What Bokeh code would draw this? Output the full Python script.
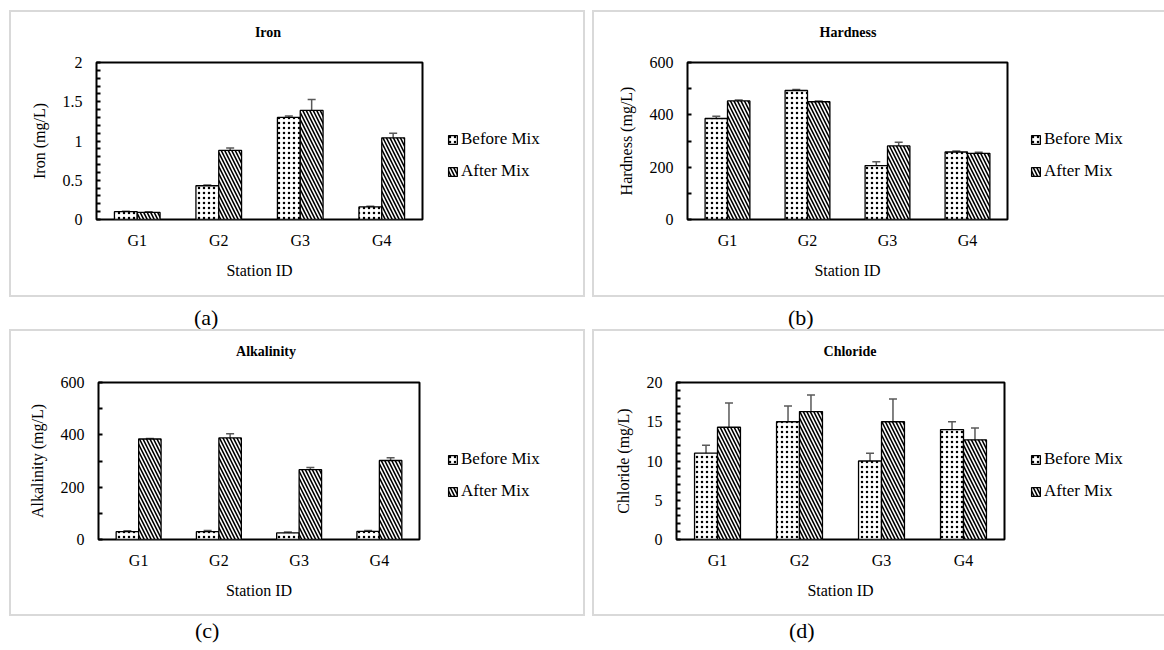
from bokeh.plotting import figure
from bokeh.models import (Range1d, FixedTicker, Legend, LegendItem, Whisker, TeeHead,
                          ColumnDataSource, NumeralTickFormatter, Spacer, Div)
from bokeh.layouts import column, row
from bokeh.embed import file_html
from bokeh.resources import INLINE

stations = ["G1", "G2", "G3", "G4"]
series_names = ["Before Mix", "After Mix"]

iron_before = [0.10, 0.43, 1.30, 0.16]
iron_before_err = [0.005, 0.01, 0.02, 0.01]
iron_after = [0.09, 0.88, 1.39, 1.04]
iron_after_err = [0.01, 0.03, 0.14, 0.06]

hard_before = [386, 493, 206, 258]
hard_before_err = [9, 4, 15, 4]
hard_after = [453, 450, 281, 253]
hard_after_err = [4, 3, 14, 4]

alk_before = [30, 30, 25, 31]
alk_before_err = [3, 4, 4, 3]
alk_after = [384, 388, 267, 302]
alk_after_err = [2, 16, 8, 10]

chl_before = [11.0, 15.0, 10.0, 14.0]
chl_before_err = [1.0, 2.0, 1.0, 1.0]
chl_after = [14.3, 16.3, 15.0, 12.7]
chl_after_err = [3.1, 2.1, 2.9, 1.5]

FONT = "Liberation Serif"
BAR_W = 0.28
ERR_COLOR = "#595959"
BORDER = "#d9d9d9"

STYLE_BEFORE = dict(fill_color="white", line_color="black", line_width=1.3,
                    hatch_pattern=".", hatch_color="black", hatch_scale=5, hatch_weight=1.0)
STYLE_AFTER = dict(fill_color="white", line_color="black", line_width=1.3,
                   hatch_pattern="\\", hatch_color="black", hatch_scale=7, hatch_weight=1.6)


def make_sources(before, before_err, after, after_err):
    idx = list(range(1, len(stations) + 1))
    xb = [i - BAR_W / 2 for i in idx]
    xa = [i + BAR_W / 2 for i in idx]
    src_b = ColumnDataSource(dict(x=xb, top=before, up=[v + e for v, e in zip(before, before_err)],
                                  lo=[v - e for v, e in zip(before, before_err)]))
    src_a = ColumnDataSource(dict(x=xa, top=after, up=[v + e for v, e in zip(after, after_err)],
                                  lo=[v - e for v, e in zip(after, after_err)]))
    return idx, src_b, src_a


def make_plot(ylabel, ymax, ystep, nminor, idx, src_b, src_a, width, left, top):
    p = figure(width=width, height=245, output_backend="svg", toolbar_location=None,
               x_range=Range1d(0.5, 4.5), y_range=Range1d(0, ymax),
               min_border_left=left, min_border_right=2, min_border_top=top,
               min_border_bottom=245 - top - 157)
    p.background_fill_color = "white"
    p.border_fill_color = "white"
    p.outline_line_color = "black"
    p.outline_line_width = 2
    p.grid.visible = False

    p.vbar(x="x", top="top", width=BAR_W, source=src_b, **STYLE_BEFORE)
    p.vbar(x="x", top="top", width=BAR_W, source=src_a, **STYLE_AFTER)
    for src in (src_b, src_a):
        w = Whisker(base="x", upper="up", lower="lo", source=src,
                    line_color=ERR_COLOR, line_width=1.5,
                    upper_head=TeeHead(size=8, line_color=ERR_COLOR, line_width=1.5),
                    lower_head=TeeHead(size=8, line_color=ERR_COLOR, line_width=1.5))
        p.add_layout(w)

    xa_ = p.xaxis[0]
    xa_.ticker = FixedTicker(ticks=idx)
    xa_.major_label_overrides = {i: s for i, s in zip(idx, stations)}
    xa_.axis_label = "Station ID"
    xa_.axis_line_color = None
    xa_.major_tick_line_color = None
    xa_.minor_tick_line_color = None
    xa_.major_label_standoff = 6
    xa_.axis_label_standoff = 10

    ya = p.yaxis[0]
    majors = []
    v = 0.0
    while v <= ymax + 1e-9:
        majors.append(round(v, 6))
        v += ystep
    minors = []
    for k in range(len(majors) - 1):
        for j in range(1, nminor):
            minors.append(majors[k] + ystep * j / nminor)
    ya.ticker = FixedTicker(ticks=majors, minor_ticks=minors)
    ya.formatter = NumeralTickFormatter(format="0.[0]")
    ya.axis_label = ylabel
    ya.axis_line_color = None
    ya.major_tick_in = 4
    ya.major_tick_out = 0
    ya.minor_tick_in = 4
    ya.minor_tick_out = 0
    ya.major_tick_line_width = 2
    ya.minor_tick_line_width = 2
    ya.major_label_standoff = 14
    ya.axis_label_standoff = 12

    for ax in (xa_, ya):
        ax.major_label_text_font = FONT
        ax.major_label_text_font_size = "16px"
        ax.major_label_text_color = "black"
        ax.axis_label_text_font = FONT
        ax.axis_label_text_font_size = "16px"
        ax.axis_label_text_font_style = "normal"
        ax.axis_label_text_color = "black"
    return p


def make_legend_fig(src_b, src_a, width, lx, ly):
    # legend-only figure: same sources, renderers hidden, legend shows the swatches
    q = figure(width=width, height=245, output_backend="svg", toolbar_location=None,
               x_range=Range1d(0.5, 4.5), y_range=Range1d(0, 1),
               x_axis_location=None, y_axis_location=None,
               min_border_left=0, min_border_right=0, min_border_top=0, min_border_bottom=0)
    q.outline_line_color = None
    q.grid.visible = False
    q.background_fill_color = "white"
    q.border_fill_color = "white"
    rb = q.vbar(x="x", top="top", width=BAR_W, source=src_b, visible=False, **STYLE_BEFORE)
    ra = q.vbar(x="x", top="top", width=BAR_W, source=src_a, visible=False, **STYLE_AFTER)
    leg = Legend(items=[LegendItem(label=series_names[0], renderers=[rb]),
                        LegendItem(label=series_names[1], renderers=[ra])],
                 location=(lx, ly), orientation="vertical",
                 glyph_width=11, glyph_height=11, label_height=20, spacing=12,
                 padding=0, margin=0, label_standoff=3,
                 label_text_font=FONT, label_text_font_size="17px",
                 label_text_color="black", border_line_color=None,
                 background_fill_alpha=0, inactive_fill_alpha=0)
    q.add_layout(leg, "center")
    return q


def title_div(text, width, center):
    return Div(width=width, height=38, margin=0, styles={"background-color": "white"},
               text=(f'<div style="position:relative;width:{width}px;height:38px;">'
                     f'<div style="position:absolute;left:{center - 100}px;top:13px;width:200px;'
                     f'text-align:center;font-family:\'Liberation Serif\';font-size:14px;'
                     f'font-weight:bold;color:black;line-height:16px;">{text}</div></div>'))


def panel(title, title_center, plot, legend_fig, inner_w, right_border=True):
    inner = column(title_div(title, inner_w, title_center), row(plot, legend_fig),
                   styles={"background-color": "white"})
    total_w = inner_w + 2 + (2 if right_border else 0)
    mid = [Spacer(width=2, height=283), inner]
    if right_border:
        mid.append(Spacer(width=2, height=283))
    return column(Spacer(width=total_w, height=2), row(*mid), Spacer(width=total_w, height=2),
                  styles={"background-color": BORDER})


LEG_Y = 38

ia, ba, aa = make_sources(iron_before, iron_before_err, iron_after, iron_after_err)
pa = panel("Iron", 257, make_plot("Iron (mg/L)", 2, 0.5, 5, ia, ba, aa, 413, 85, 12),
           make_legend_fig(ba, aa, 159, 23, LEG_Y), 572)

ib, bb, ab = make_sources(hard_before, hard_before_err, hard_after, hard_after_err)
pb = panel("Hardness", 254, make_plot("Hardness (mg/L)", 600, 200, 2, ib, bb, ab, 415, 93, 12),
           make_legend_fig(bb, ab, 155, 21, LEG_Y), 570, right_border=False)

ic, bc, ac = make_sources(alk_before, alk_before_err, alk_after, alk_after_err)
pc = panel("Alkalinity", 255, make_plot("Alkalinity (mg/L)", 600, 200, 2, ic, bc, ac, 410, 87, 13),
           make_legend_fig(bc, ac, 162, 26, LEG_Y), 572)

idd, bd, ad = make_sources(chl_before, chl_before_err, chl_after, chl_after_err)
pd = panel("Chloride", 256, make_plot("Chloride (mg/L)", 20, 5, 5, idd, bd, ad, 412, 82, 13),
           make_legend_fig(bd, ad, 158, 24, LEG_Y), 570, right_border=False)


def captions(h, top, labels_pos):
    spans = "".join(
        f'<span style="position:absolute;left:{x}px;top:{top}px;">{t}</span>'
        for t, x in labels_pos)
    return Div(width=1164, height=h, margin=0,
               text=f'<div style="position:relative;width:1164px;height:{h}px;'
                    f'font-family:\'Liberation Serif\';font-size:22px;color:black;">{spans}</div>')


cap1 = captions(32, 5, [("(a)", 194), ("(b)", 788)])
cap2 = captions(34, -1, [("(c)", 195), ("(d)", 789)])

layout = column(
    Spacer(width=1164, height=10),
    row(Spacer(width=9, height=287), pa, Spacer(width=7, height=287), pb),
    cap1,
    row(Spacer(width=9, height=287), pc, Spacer(width=7, height=287), pd),
    cap2,
)

open("out.html", "w").write(file_html(layout, INLINE))
